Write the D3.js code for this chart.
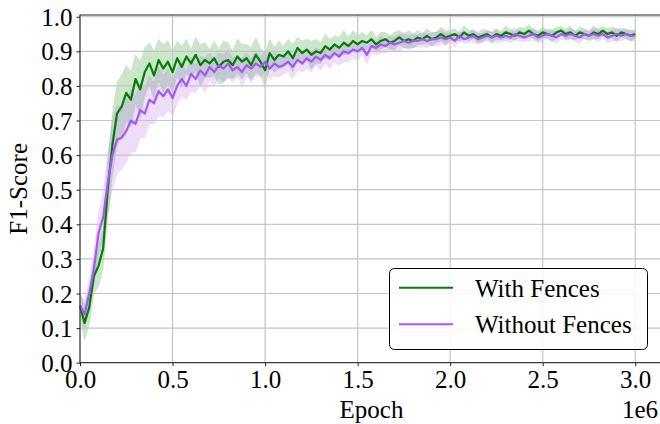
<!DOCTYPE html>
<html>
<head>
<meta charset="utf-8">
<script src="https://cdn.jsdelivr.net/npm/d3@7"></script>
<style>
    body { margin: 0; background: #fff; }
</style>
</head>
<body>
<div id="chart_container"></div>
<script>
// one sample every 25000 epochs, from 0 to 3e6
const stepEpochs = 25000;

// mean F1-score, "With Fences"
const withFencesMean = [
    0.165, 0.115, 0.16, 0.25, 0.28, 0.33, 0.50, 0.63, 0.72, 0.74,
    0.78, 0.76, 0.82, 0.79, 0.84, 0.865, 0.83, 0.875, 0.85, 0.87,
    0.84, 0.88, 0.855, 0.885, 0.865, 0.89, 0.86, 0.875, 0.865, 0.88,
    0.855, 0.87, 0.875, 0.86, 0.885, 0.87, 0.88, 0.86, 0.89, 0.87,
    0.845, 0.895, 0.875, 0.89, 0.885, 0.90, 0.88, 0.91, 0.895, 0.905,
    0.89, 0.90, 0.895, 0.915, 0.905, 0.92, 0.91, 0.925, 0.915, 0.93,
    0.92, 0.93, 0.925, 0.935, 0.92, 0.93, 0.935, 0.925, 0.93, 0.94,
    0.93, 0.935, 0.93, 0.94, 0.935, 0.945, 0.935, 0.94, 0.95, 0.94,
    0.945, 0.95, 0.94, 0.955, 0.945, 0.95, 0.94, 0.945, 0.95, 0.94,
    0.95, 0.945, 0.955, 0.95, 0.945, 0.955, 0.95, 0.96, 0.95, 0.945,
    0.955, 0.95, 0.945, 0.955, 0.96, 0.95, 0.955, 0.945, 0.955, 0.95,
    0.945, 0.955, 0.95, 0.96, 0.95, 0.955, 0.945, 0.955, 0.95, 0.945,
    0.95
];

// spread (std) of "With Fences"
const withFencesStd = [
    0.04, 0.05, 0.05, 0.05, 0.06, 0.06, 0.08, 0.09, 0.09, 0.09,
    0.08, 0.08, 0.07, 0.08, 0.07, 0.06, 0.07, 0.06, 0.07, 0.06,
    0.06, 0.05, 0.06, 0.05, 0.04, 0.05, 0.06, 0.05, 0.04, 0.05,
    0.05, 0.06, 0.05, 0.04, 0.05, 0.05, 0.04, 0.05, 0.05, 0.04,
    0.05, 0.04, 0.035, 0.04, 0.03, 0.035, 0.04, 0.03, 0.035, 0.03,
    0.04, 0.035, 0.03, 0.035, 0.03, 0.025, 0.03, 0.035, 0.025, 0.03,
    0.025, 0.025, 0.02, 0.025, 0.02, 0.025, 0.02, 0.02, 0.025, 0.02,
    0.02, 0.025, 0.02, 0.02, 0.015, 0.02, 0.02, 0.015, 0.02, 0.02,
    0.015, 0.015, 0.012, 0.018, 0.015, 0.012, 0.015, 0.018, 0.012, 0.015,
    0.015, 0.012, 0.018, 0.015, 0.012, 0.015, 0.015, 0.018, 0.012, 0.015,
    0.015, 0.012, 0.018, 0.015, 0.012, 0.015, 0.018, 0.012, 0.015, 0.015,
    0.012, 0.018, 0.015, 0.012, 0.015, 0.015, 0.018, 0.012, 0.015, 0.015,
    0.012
];

// mean F1-score, "Without Fences"
const withoutFencesMean = [
    0.165, 0.14, 0.20, 0.27, 0.375, 0.42, 0.52, 0.60, 0.645, 0.65,
    0.67, 0.70, 0.69, 0.73, 0.72, 0.76, 0.75, 0.785, 0.77, 0.79,
    0.765, 0.80, 0.82, 0.80, 0.835, 0.82, 0.845, 0.83, 0.855, 0.84,
    0.86, 0.85, 0.865, 0.845, 0.855, 0.84, 0.86, 0.85, 0.865, 0.855,
    0.87, 0.85, 0.865, 0.855, 0.86, 0.87, 0.855, 0.875, 0.865, 0.88,
    0.87, 0.885, 0.875, 0.89, 0.88, 0.895, 0.885, 0.90, 0.895, 0.905,
    0.90, 0.91, 0.89, 0.915, 0.91, 0.92, 0.915, 0.925, 0.92, 0.925,
    0.93, 0.925, 0.93, 0.93, 0.935, 0.93, 0.935, 0.935, 0.94, 0.935,
    0.94, 0.93, 0.945, 0.935, 0.94, 0.945, 0.935, 0.94, 0.945, 0.94,
    0.945, 0.94, 0.945, 0.94, 0.95, 0.945, 0.94, 0.945, 0.95, 0.94,
    0.945, 0.95, 0.945, 0.94, 0.95, 0.945, 0.95, 0.945, 0.94, 0.95,
    0.945, 0.95, 0.945, 0.95, 0.94, 0.945, 0.95, 0.945, 0.95, 0.945,
    0.945
];

// spread (std) of "Without Fences"
const withoutFencesStd = [
    0.03, 0.04, 0.04, 0.05, 0.06, 0.07, 0.09, 0.10, 0.10, 0.09,
    0.09, 0.09, 0.08, 0.08, 0.07, 0.07, 0.06, 0.07, 0.06, 0.06,
    0.05, 0.05, 0.05, 0.04, 0.05, 0.04, 0.04, 0.05, 0.04, 0.04,
    0.035, 0.04, 0.04, 0.035, 0.03, 0.04, 0.035, 0.03, 0.035, 0.03,
    0.03, 0.03, 0.035, 0.03, 0.025, 0.03, 0.035, 0.03, 0.025, 0.03,
    0.03, 0.025, 0.03, 0.025, 0.03, 0.025, 0.025, 0.03, 0.025, 0.025,
    0.025, 0.02, 0.025, 0.02, 0.02, 0.025, 0.02, 0.02, 0.02, 0.025,
    0.02, 0.02, 0.02, 0.018, 0.02, 0.02, 0.018, 0.02, 0.02, 0.018,
    0.015, 0.018, 0.015, 0.012, 0.015, 0.018, 0.015, 0.012, 0.015, 0.015,
    0.018, 0.012, 0.015, 0.015, 0.018, 0.015, 0.012, 0.015, 0.018, 0.015,
    0.015, 0.012, 0.015, 0.018, 0.015, 0.012, 0.015, 0.015, 0.018, 0.012,
    0.015, 0.015, 0.018, 0.012, 0.015, 0.015, 0.018, 0.015, 0.012, 0.015,
    0.015
];

const seriesNames = ['With Fences', 'Without Fences'];
const seriesColors = ['#008000', '#a855f7'];

const xTicks = [0, 0.5e6, 1.0e6, 1.5e6, 2.0e6, 2.5e6, 3.0e6];
const yTicks = [0.0, 0.1, 0.2, 0.3, 0.4, 0.5, 0.6, 0.7, 0.8, 0.9, 1.0];

// try every serif face that might be installed
const serifFont = 'Liberation Serif, Tinos, Times New Roman, Nimbus Roman, FreeSerif, Noto Serif, DejaVu Serif, serif';

/**
 * Builds an array of {x, mean, lo, hi} rows for a series
 */
function buildRows(means, stds) {
    return means.map(function (m, i) {
        return { x: i * stepEpochs, mean: m, lo: m - stds[i], hi: m + stds[i] };
    });
}

let series = [
    buildRows(withFencesMean, withFencesStd),
    buildRows(withoutFencesMean, withoutFencesStd)
];

let width = 660, height = 424;
let plotLeft = 80, plotRight = 663, plotTop = 15, plotBottom = 362.7;

let svg = d3.select('#chart_container')
    .append('svg')
    .attr('width', width)
    .attr('height', height)
    .style('font-family', serifFont);

svg.append('rect').attr('width', width).attr('height', height).attr('fill', '#fff');

let x = d3.scaleLinear().domain([0, 3.15e6]).range([plotLeft, plotRight]);
let y = d3.scaleLinear().domain([0, 1.005]).range([plotBottom, plotTop]);

let plot = svg.append('g');

// shaded std bands
let area = d3.area()
    .x(function (d) { return x(d.x); })
    .y0(function (d) { return y(d.lo); })
    .y1(function (d) { return y(d.hi); });

series.forEach(function (rows, k) {
    plot.append('path')
        .datum(rows)
        .attr('d', area)
        .attr('fill', seriesColors[k])
        .attr('fill-opacity', 0.2)
        .attr('stroke', seriesColors[k])
        .attr('stroke-opacity', 0.15)
        .attr('stroke-width', 0.6);
});

// grid lines (above the bands, below the lines)
plot.append('g')
    .selectAll('line.vgrid')
    .data(xTicks)
    .enter()
    .append('line')
    .attr('x1', function (d) { return x(d); })
    .attr('x2', function (d) { return x(d); })
    .attr('y1', plotTop)
    .attr('y2', plotBottom)
    .attr('stroke', '#c4c4c4')
    .attr('stroke-width', 1.2);

plot.append('g')
    .selectAll('line.hgrid')
    .data(yTicks)
    .enter()
    .append('line')
    .attr('x1', plotLeft)
    .attr('x2', plotRight)
    .attr('y1', function (d) { return y(d); })
    .attr('y2', function (d) { return y(d); })
    .attr('stroke', '#c4c4c4')
    .attr('stroke-width', 1.2);

// mean lines
let line = d3.line()
    .x(function (d) { return x(d.x); })
    .y(function (d) { return y(d.mean); });

series.forEach(function (rows, k) {
    plot.append('path')
        .datum(rows)
        .attr('d', line)
        .attr('fill', 'none')
        .attr('stroke', seriesColors[k])
        .attr('stroke-width', 2.2)
        .attr('stroke-linejoin', 'round');
});

// spines
svg.append('rect')
    .attr('x', plotLeft)
    .attr('y', plotTop)
    .attr('width', plotRight - plotLeft)
    .attr('height', plotBottom - plotTop)
    .attr('fill', 'none')
    .attr('stroke', '#222')
    .attr('stroke-width', 1);

// X axis
let xAxis = svg.append('g')
    .attr('transform', 'translate(0,' + plotBottom + ')')
    .call(d3.axisBottom(x)
        .tickValues(xTicks)
        .tickSize(3.5)
        .tickPadding(4)
        .tickFormat(function (d) { return (d / 1e6).toFixed(1); }));

// Y axis
let yAxis = svg.append('g')
    .attr('transform', 'translate(' + plotLeft + ',0)')
    .call(d3.axisLeft(y)
        .tickValues(yTicks)
        .tickSize(3.5)
        .tickPadding(4)
        .tickFormat(d3.format('.1f')));

[xAxis, yAxis].forEach(function (ax) {
    ax.attr('font-family', null).attr('font-size', null);
    ax.select('.domain').remove();
    ax.selectAll('.tick line').attr('stroke', '#222').attr('stroke-width', 1);
    ax.selectAll('.tick text')
        .attr('fill', '#000')
        .style('font-family', serifFont)
        .style('font-size', '25px');
});
xAxis.selectAll('.tick text').attr('dy', '0.72em');
yAxis.selectAll('.tick text').attr('dy', '0.34em');

// axis labels
svg.append('text')
    .attr('x', (plotLeft + plotRight) / 2)
    .attr('y', 418)
    .attr('text-anchor', 'middle')
    .style('font-family', serifFont)
    .style('font-size', '25px')
    .text('Epoch');

svg.append('text')
    .attr('x', 658)
    .attr('y', 418)
    .attr('text-anchor', 'end')
    .style('font-family', serifFont)
    .style('font-size', '25px')
    .text('1e6');

svg.append('text')
    .attr('transform', 'translate(27,' + ((plotTop + plotBottom) / 2) + ') rotate(-90)')
    .attr('text-anchor', 'middle')
    .style('font-family', serifFont)
    .style('font-size', '25px')
    .text('F1-Score');

// legend
let legend = svg.append('g');
legend.append('rect')
    .attr('x', 389.5)
    .attr('y', 268.5)
    .attr('width', 258)
    .attr('height', 81)
    .attr('rx', 5)
    .attr('fill', '#fff')
    .attr('fill-opacity', 0.85)
    .attr('stroke', '#000')
    .attr('stroke-width', 1);

seriesNames.forEach(function (name, k) {
    let ly = 287.7 + k * 36.6;
    legend.append('line')
        .attr('x1', 399)
        .attr('x2', 453)
        .attr('y1', ly)
        .attr('y2', ly)
        .attr('stroke', seriesColors[k])
        .attr('stroke-width', 2);
    legend.append('text')
        .attr('x', 475)
        .attr('y', ly + 8.8)
        .style('font-family', serifFont)
        .style('font-size', '25px')
        .text(name);
});
</script>
</body>
</html>
